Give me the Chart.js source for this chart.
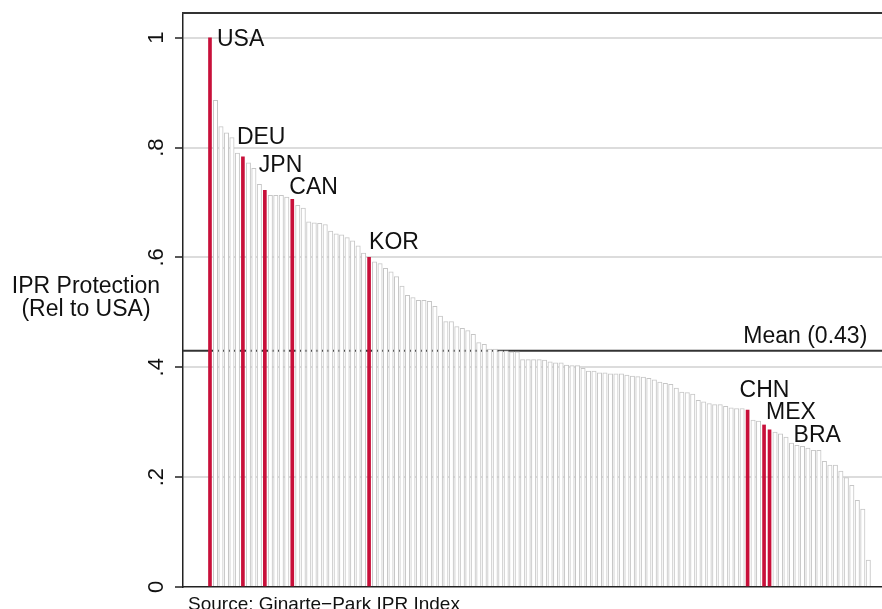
<!DOCTYPE html>
<html>
<head>
<meta charset="utf-8">
<script src="https://cdn.jsdelivr.net/npm/chart.js@4.4.1/dist/chart.umd.min.js"></script>
<style>
  html, body { margin: 0; padding: 0; background: #ffffff; overflow: hidden; }
  canvas { display: block; }
</style>
</head>
<body>
<canvas id="ipr" width="882" height="609"></canvas>
<script>
// IPR protection index by country, relative to the USA, ranked from highest to lowest
const protectionRanked = [
  1.000, 0.886, 0.838, 0.827, 0.818, 0.790, 0.783, 0.772, 0.762, 0.733,
  0.722, 0.713, 0.713, 0.713, 0.710, 0.706, 0.695, 0.690, 0.665, 0.663,
  0.662, 0.660, 0.648, 0.643, 0.641, 0.636, 0.630, 0.621, 0.608, 0.600,
  0.592, 0.589, 0.580, 0.574, 0.565, 0.548, 0.531, 0.527, 0.522, 0.522,
  0.520, 0.511, 0.493, 0.483, 0.483, 0.474, 0.471, 0.467, 0.460, 0.445,
  0.442, 0.433, 0.433, 0.430, 0.430, 0.428, 0.428, 0.414, 0.414, 0.414,
  0.414, 0.413, 0.410, 0.408, 0.408, 0.404, 0.403, 0.403, 0.398, 0.393,
  0.393, 0.390, 0.390, 0.388, 0.388, 0.388, 0.386, 0.384, 0.383, 0.382,
  0.380, 0.377, 0.373, 0.371, 0.369, 0.362, 0.355, 0.354, 0.351, 0.340,
  0.337, 0.334, 0.332, 0.332, 0.329, 0.326, 0.325, 0.325, 0.322, 0.304,
  0.302, 0.295, 0.286, 0.282, 0.279, 0.273, 0.262, 0.258, 0.256, 0.253,
  0.249, 0.249, 0.229, 0.222, 0.222, 0.211, 0.199, 0.185, 0.158, 0.142,
  0.049
];

// Countries singled out in red, with their position in the ranking
const highlightCodes = ['USA', 'DEU', 'JPN', 'CAN', 'KOR', 'CHN', 'MEX', 'BRA'];
const highlightRanks = [0, 6, 10, 15, 29, 98, 101, 102];

const meanProtection = 0.43;
const yTickValues = [0, 0.2, 0.4, 0.6, 0.8, 1];
const yTickLabels = ['0', '.2', '.4', '.6', '.8', '1'];
const axisTitleLines = ['IPR Protection', '(Rel to USA)'];
const sourceNote = 'Source: Ginarte\u2212Park IPR Index';

// Hand placement of each country tag relative to the top of its bar (px)
const tagNudge = {
  USA: [7, 8], DEU: [-6, -13], JPN: [-6, -18], CAN: [-3, -5],
  KOR: [0, -8], CHN: [-8, -13], MEX: [2, -6], BRA: [24, 12]
};

const FONT = '"Liberation Sans", Arial, Helvetica, sans-serif';
const INK = '#111111';
const RED = '#c8103a';

const isHighlighted = i => highlightRanks.includes(i);
const greyBars = protectionRanked.map((v, i) => ({ x: i, y: isHighlighted(i) ? null : v }));
const redBars = protectionRanked.map((v, i) => ({ x: i, y: isHighlighted(i) ? v : null }));

const decorations = {
  id: 'decorations',
  beforeDatasetsDraw(chart) {
    const { ctx, chartArea: a, scales: { y } } = chart;
    const py = y.getPixelForValue(meanProtection);
    ctx.save();
    ctx.strokeStyle = '#333333';
    ctx.lineWidth = 2;
    ctx.beginPath();
    ctx.moveTo(a.left, py);
    ctx.lineTo(a.right, py);
    ctx.stroke();
    ctx.restore();
  },
  afterDraw(chart) {
    const { ctx, chartArea: a, scales: { x, y } } = chart;
    ctx.save();

    // frame line along the top of the plot region
    ctx.strokeStyle = '#333333';
    ctx.lineWidth = 2;
    ctx.beginPath();
    ctx.moveTo(a.left - 1, a.top);
    ctx.lineTo(a.right, a.top);
    ctx.stroke();

    ctx.fillStyle = INK;

    // vertical tick labels, reading bottom to top
    ctx.font = '22px ' + FONT;
    ctx.textAlign = 'center';
    ctx.textBaseline = 'alphabetic';
    yTickValues.forEach((v, i) => {
      ctx.save();
      ctx.translate(a.left - 20, y.getPixelForValue(v));
      ctx.rotate(-Math.PI / 2);
      ctx.fillText(yTickLabels[i], 0, 0);
      ctx.restore();
    });

    // axis title, two horizontal lines
    ctx.font = '23px ' + FONT;
    const mid = (a.top + a.bottom) / 2;
    ctx.fillText(axisTitleLines[0], 86, mid - 7.5);
    ctx.fillText(axisTitleLines[1], 86, mid + 15.5);

    // country tags
    ctx.textAlign = 'left';
    highlightCodes.forEach((code, k) => {
      const r = highlightRanks[k];
      const [dx, dy] = tagNudge[code];
      ctx.fillText(code, x.getPixelForValue(r) + dx, y.getPixelForValue(protectionRanked[r]) + dy);
    });

    // mean label
    ctx.textAlign = 'right';
    ctx.fillText('Mean (' + meanProtection.toFixed(2) + ')',
      x.getPixelForValue(protectionRanked.length - 1) - 1,
      y.getPixelForValue(meanProtection) - 8);

    // source note
    ctx.textAlign = 'left';
    ctx.font = '19px ' + FONT;
    ctx.fillText(sourceNote, a.left + 5, 610);

    ctx.restore();
  }
};

new Chart(document.getElementById('ipr'), {
  type: 'bar',
  data: {
    datasets: [
      {
        data: greyBars,
        backgroundColor: '#ffffff',
        borderColor: '#c6c6c6',
        borderWidth: 1,
        barThickness: 4.4,
        grouped: false
      },
      {
        data: redBars,
        backgroundColor: RED,
        borderWidth: 0,
        barThickness: 3,
        grouped: false
      }
    ]
  },
  options: {
    responsive: false,
    animation: false,
    devicePixelRatio: 1,
    layout: { padding: { left: 175, right: 0, top: 13, bottom: 22 } },
    plugins: { legend: { display: false }, tooltip: { enabled: false } },
    scales: {
      x: {
        type: 'linear',
        offset: false,
        min: -4.92,
        max: 122.5,
        ticks: { display: false },
        grid: { display: false, drawTicks: false },
        border: { display: true, color: '#222222', width: 1.5 }
      },
      y: {
        type: 'linear',
        min: 0,
        max: 1.045,
        afterBuildTicks: scale => { scale.ticks = yTickValues.map(v => ({ value: v })); },
        ticks: { display: false },
        grid: {
          color: c => (c.tick && c.tick.value === 0 ? 'rgba(0,0,0,0)' : '#dcdcdc'),
          lineWidth: 2,
          tickLength: 8,
          tickColor: '#222222',
          tickWidth: 1.5
        },
        border: { display: true, color: '#222222', width: 1.5 }
      }
    }
  },
  plugins: [decorations]
});
</script>
</body>
</html>
